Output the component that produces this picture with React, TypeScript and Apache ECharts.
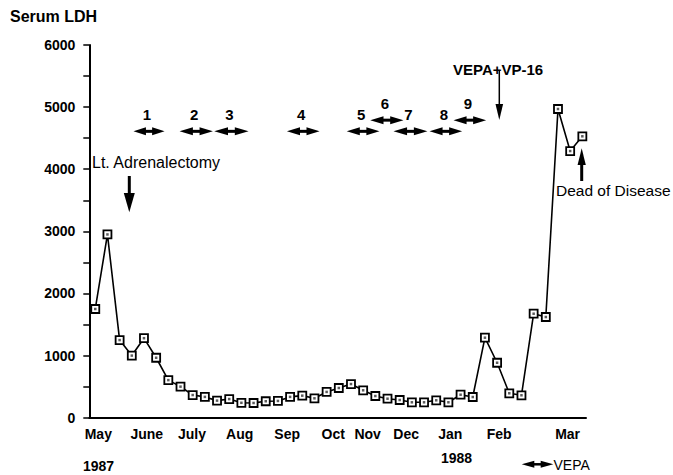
import React, { useEffect, useRef } from 'react';
import * as echarts from 'echarts';

// Serum LDH measurements, evenly spaced samples (index 0 = early May 1987)
const ldhValues = [
  1750, 2950, 1250, 1000, 1280, 965, 605, 500, 365, 335,
  275, 300, 240, 237, 265, 270, 335, 355, 312, 415,
  478, 542, 441, 349, 306, 285, 248, 248, 280, 248,
  370, 333, 1288, 885, 393, 361, 1674, 1621, 4970, 4293,
  4530,
];

// Month tick labels and where they sit on the sample index scale
const monthLabels = ['May', 'June', 'July', 'Aug', 'Sep', 'Oct', 'Nov', 'Dec', 'Jan', 'Feb', 'Mar'];
const monthPositions = [0.25, 4.23, 7.94, 11.86, 15.76, 19.54, 22.37, 25.53, 29.15, 33.17, 38.79];
const yearLabels = ['1987', '1988'];

// VEPA courses (start / end in sample index, drawn at an LDH level)
const courseLabels = ['1', '2', '3', '4', '5', '6', '7', '8', '9'];
const courseStart = [3.14, 6.92, 9.77, 15.74, 20.65, 22.58, 24.49, 27.45, 29.42];
const courseEnd = [5.69, 9.66, 12.59, 18.42, 23.34, 25.31, 27.28, 30.13, 32.1];
const courseLevel = [4610, 4610, 4610, 4610, 4610, 4790, 4610, 4610, 4790];

const FONT = '"Liberation Sans", Arial, Helvetica, sans-serif';

function doubleArrow(x1: number, x2: number, y: number, hh: number, shaft: number) {
  const L = x2 - x1;
  const hl = L * 0.4;
  return [
    { type: 'polygon', shape: { points: [[x1, y], [x1 + hl, y - hh], [x1 + hl, y + hh]] }, style: { fill: '#000' } },
    { type: 'rect', shape: { x: x1 + hl - 1, y: y - shaft / 2, width: L - 2 * hl + 2, height: shaft }, style: { fill: '#000' } },
    { type: 'polygon', shape: { points: [[x2, y], [x2 - hl, y - hh], [x2 - hl, y + hh]] }, style: { fill: '#000' } },
  ];
}

function txt(text: string, x: number, y: number, size: number, bold: boolean, align = 'left') {
  return {
    type: 'text',
    silent: true,
    style: {
      text,
      x,
      y,
      font: `${bold ? 'bold ' : ''}${size}px ${FONT}`,
      fill: '#000',
      textAlign: align,
      textVerticalAlign: 'middle',
      align,
      verticalAlign: 'middle',
    },
  };
}

export default function App() {
  const ref = useRef<HTMLDivElement>(null);

  useEffect(() => {
    if (!ref.current) return;
    const chart = echarts.init(ref.current, null, { renderer: 'svg' });

    const lineData = ldhValues.map((v, i) => [i, v]);
    const courseData = courseStart.map((s, i) => [s, courseEnd[i], courseLevel[i]]);

    const option: any = {
      animation: false,
      backgroundColor: '#fff',
      grid: { left: 89.3, right: 87, top: 45, bottom: 57.3, containLabel: false },
      xAxis: {
        type: 'value',
        min: -0.49,
        max: 40.3,
        splitLine: { show: false },
        axisLine: { show: true, onZero: false, lineStyle: { color: '#000', width: 2 } },
        axisTick: { show: false },
        axisLabel: {
          customValues: monthPositions,
          margin: 9,
          hideOverlap: false,
          color: '#000',
          fontFamily: FONT,
          fontWeight: 'bold',
          fontSize: 14,
          formatter: (value: number) => {
            let best = 0;
            let d = Infinity;
            monthPositions.forEach((p, i) => {
              const dd = Math.abs(p - value);
              if (dd < d) { d = dd; best = i; }
            });
            return monthLabels[best];
          },
        },
      },
      yAxis: {
        type: 'value',
        min: 0,
        max: 6000,
        interval: 500,
        splitLine: { show: false },
        axisLine: { show: true, onZero: false, lineStyle: { color: '#000', width: 2 } },
        axisTick: { show: true, inside: false, length: 6, lineStyle: { color: '#000', width: 1.5 } },
        axisLabel: {
          margin: 14,
          color: '#000',
          fontFamily: FONT,
          fontWeight: 'bold',
          fontSize: 14,
          formatter: (v: number) => (v % 1000 === 0 ? String(v) : ''),
        },
      },
      series: [
        {
          type: 'line',
          data: lineData,
          symbol: 'rect',
          symbolSize: 8,
          showAllSymbol: true,
          lineStyle: { color: '#000', width: 1.6 },
          itemStyle: { color: '#fff', borderColor: '#000', borderWidth: 1.8 },
          z: 3,
        },
        {
          type: 'scatter',
          data: lineData,
          symbol: 'rect',
          symbolSize: 2.5,
          itemStyle: { color: '#333' },
          silent: true,
          z: 4,
        },
        {
          type: 'custom',
          data: courseData,
          encode: { x: [0, 1], y: 2 },
          clip: false,
          silent: true,
          z: 5,
          renderItem: (params: any, api: any) => {
            const i = params.dataIndex;
            const p1 = api.coord([api.value(0), api.value(2)]);
            const p2 = api.coord([api.value(1), api.value(2)]);
            const y = p1[1];
            return {
              type: 'group',
              children: [
                ...doubleArrow(p1[0], p2[0], y, 4, 3),
                txt(courseLabels[i], (p1[0] + p2[0]) / 2 - 2, y - 17, 15, true, 'center'),
              ],
            };
          },
        },
      ],
      graphic: [
        txt('Serum LDH', 10, 16, 16, true),
        txt('Lt. Adrenalectomy', 92, 162, 16, false),
        { type: 'rect', silent: true, shape: { x: 127.8, y: 176, width: 3, height: 19 }, style: { fill: '#000' } },
        { type: 'polygon', silent: true, shape: { points: [[123.8, 193], [134.8, 193], [129.3, 212.3]] }, style: { fill: '#000' } },
        txt('VEPA+VP-16', 453, 69, 15, true),
        { type: 'line', silent: true, shape: { x1: 499.3, y1: 71, x2: 499.3, y2: 108 }, style: { stroke: '#000', lineWidth: 1.5 } },
        { type: 'polygon', silent: true, shape: { points: [[495.5, 104], [503.1, 104], [499.3, 120]] }, style: { fill: '#000' } },
        txt('Dead of Disease', 556, 190, 15.5, false),
        { type: 'rect', silent: true, shape: { x: 580.2, y: 162, width: 3, height: 19 }, style: { fill: '#000' } },
        { type: 'polygon', silent: true, shape: { points: [[577.6, 165], [585.8, 165], [581.7, 148.3]] }, style: { fill: '#000' } },
        txt(yearLabels[0], 83, 466, 14, true),
        txt(yearLabels[1], 441, 458, 14, true),
        { type: 'group', silent: true, children: doubleArrow(521.7, 553.3, 464.3, 3.5, 2.5) },
        txt('VEPA', 553.5, 464.5, 14, false),
      ],
    };

    chart.setOption(option);
    return () => chart.dispose();
  }, []);

  return (
    <div
      ref={ref}
      style={{ position: 'fixed', left: 0, top: 0, width: 673, height: 475, background: '#fff' }}
    />
  );
}
